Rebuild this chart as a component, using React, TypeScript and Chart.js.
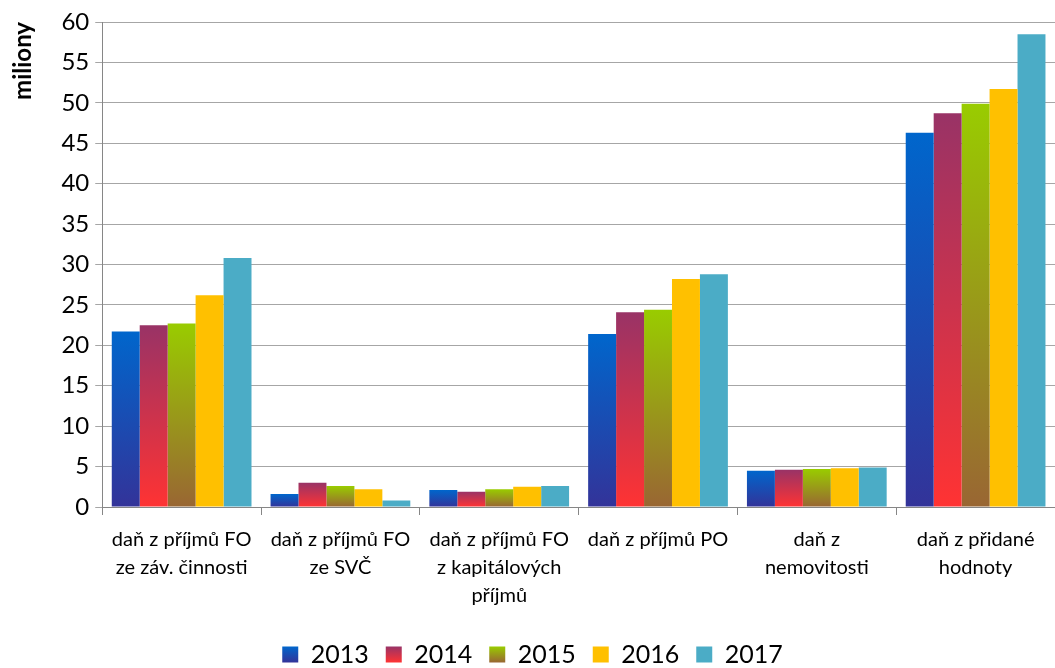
import React, { useEffect, useRef } from "react";
import { Chart, registerables } from "chart.js";

Chart.register(...registerables);

const categories: string[][] = [
  ["daň z příjmů FO", "ze záv. činnosti"],
  ["daň z příjmů FO", "ze SVČ"],
  ["daň z příjmů FO", "z kapitálových", "příjmů"],
  ["daň z příjmů PO"],
  ["daň z", "nemovitosti"],
  ["daň z přidané", "hodnoty"],
];

const years = ["2013", "2014", "2015", "2016", "2017"];

const values2013 = [21.7, 1.6, 2.1, 21.4, 4.5, 46.3];
const values2014 = [22.5, 3.0, 1.9, 24.1, 4.6, 48.7];
const values2015 = [22.7, 2.6, 2.2, 24.4, 4.7, 49.9];
const values2016 = [26.2, 2.2, 2.5, 28.2, 4.8, 51.7];
const values2017 = [30.8, 0.8, 2.6, 28.8, 4.9, 58.5];

const yTicks = [0, 5, 10, 15, 20, 25, 30, 35, 40, 45, 50, 55, 60];

// top colour, bottom colour for each series
const seriesColors: [string, string][] = [
  ["#0066CC", "#333399"],
  ["#993366", "#FF3333"],
  ["#99CC00", "#996633"],
  ["#FFC000", "#FFC000"],
  ["#4BACC6", "#4BACC6"],
];

const FONT = "Lato, 'Open Sans', sans-serif";

export default function App() {
  const ref = useRef<HTMLCanvasElement | null>(null);

  useEffect(() => {
    if (!ref.current) return;
    const allValues = [values2013, values2014, values2015, values2016, values2017];

    const legendGradientPlugin = {
      id: "legendGradient",
      beforeDraw(chart: any) {
        const legend = chart.legend;
        if (!legend || !legend.legendItems || !legend.legendHitBoxes) return;
        const boxH = legend.options.labels.boxHeight;
        const fontSize = legend.options.labels.font.size;
        legend.legendItems.forEach((item: any, i: number) => {
          const hb = legend.legendHitBoxes[i];
          if (!hb) return;
          const top = hb.top + Math.max((fontSize - boxH) / 2, 0);
          const [c1, c2] = seriesColors[i];
          const g = chart.ctx.createLinearGradient(0, top, 0, top + boxH);
          g.addColorStop(0, c1);
          g.addColorStop(1, c2);
          item.fillStyle = g;
        });
      },
    };

    const chart = new Chart(ref.current, {
      type: "bar",
      data: {
        labels: categories,
        datasets: years.map((y, i) => ({
          label: y,
          data: allValues[i],
          borderWidth: 0,
          backgroundColor: (ctx: any) => {
            const [c1, c2] = seriesColors[i];
            const chart = ctx.chart;
            if (ctx.type !== "data" || !chart.chartArea) return c1;
            const yScale = chart.scales.y;
            const yTop = yScale.getPixelForValue(ctx.raw);
            const yBot = yScale.getPixelForValue(0);
            if (!isFinite(yTop) || !isFinite(yBot) || yTop === yBot) return c1;
            const g = chart.ctx.createLinearGradient(0, yTop, 0, yBot);
            g.addColorStop(0, c1);
            g.addColorStop(1, c2);
            return g;
          },
        })),
      },
      options: {
        animation: false,
        responsive: true,
        maintainAspectRatio: false,
        layout: { padding: { top: 22, right: 0, left: 10, bottom: -9 } },
        datasets: {
          bar: { categoryPercentage: 0.88, barPercentage: 1 },
        },
        plugins: {
          legend: {
            position: "bottom",
            labels: {
              color: "#000",
              font: { family: FONT, size: 25, lineHeight: 1.0 },
              boxWidth: 16,
              boxHeight: 16,
              padding: 17,
            },
          },
          tooltip: { enabled: false },
        },
        scales: {
          x: {
            afterFit: (axis: any) => {
              axis.height += 4;
            },
            grid: {
              offset: true,
              drawOnChartArea: false,
              drawTicks: true,
              tickLength: 8,
              color: "#868686",
            },
            border: { color: "#868686", width: 1 },
            ticks: {
              color: "#000",
              font: { family: FONT, size: 20, lineHeight: 1.4 },
              maxRotation: 0,
              autoSkip: false,
              padding: 11,
            },
          },
          y: {
            min: 0,
            max: 60,
            afterBuildTicks: (axis: any) => {
              axis.ticks = yTicks.map((v) => ({ value: v }));
            },
            grid: {
              color: "#A6A6A6",
              tickLength: 7,
              drawTicks: true,
            },
            border: { color: "#868686", width: 1 },
            ticks: {
              color: "#000",
              font: { family: FONT, size: 24 },
              padding: 6,
            },
            title: {
              display: true,
              text: "miliony",
              align: "end",
              color: "#000",
              font: { family: FONT, size: 24, weight: "bold", lineHeight: 1.1 },
              padding: { top: 0, bottom: 19 },
            },
          },
        },
      },
      plugins: [legendGradientPlugin],
    } as any);
    return () => chart.destroy();
  }, []);

  return (
    <div style={{ position: "fixed", left: 0, top: 0, width: 1055, height: 668 }}>
      <canvas ref={ref} />
    </div>
  );
}
